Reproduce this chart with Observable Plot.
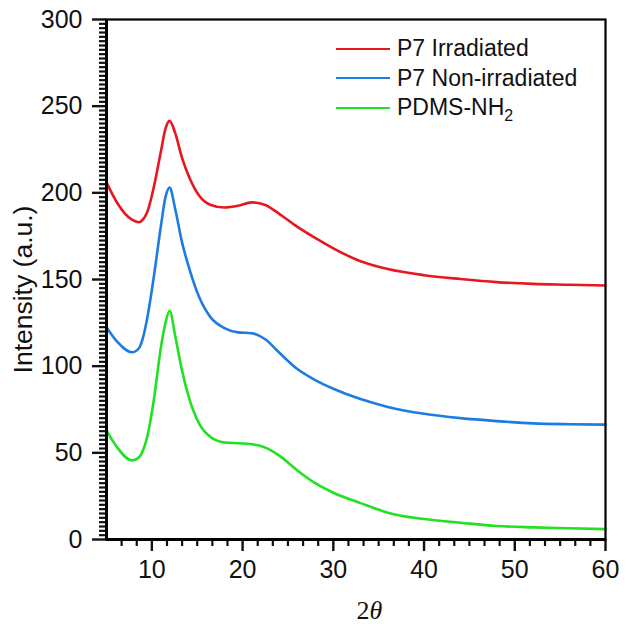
<!DOCTYPE html>
<html>
<head>
<meta charset="utf-8">
<script src="https://cdn.jsdelivr.net/npm/d3@7"></script>
<script src="https://cdn.jsdelivr.net/npm/@observablehq/plot@0.6"></script>
<style>
  html, body { margin: 0; padding: 0; background: #fff; }
  #wrap { position: relative; width: 626px; height: 626px; font-family: "Liberation Sans", Arial, sans-serif; }
  #legend { position: absolute; left: 336px; top: 34px; font-size: 23px; color: #111; line-height: 29.5px; }
  #legend .row { display: flex; align-items: center; white-space: nowrap; }
  #legend .sw { display: inline-block; width: 54px; height: 2px; margin-right: 7px; }
  #legend sub { font-size: 16px; line-height: 0; vertical-align: -6px; }
</style>
</head>
<body>
<div id="wrap"><div id="legend"></div></div>
<script>
const twoTheta = [5, 6.2, 7.8, 8.6, 9.0, 9.5, 10.2, 11, 11.5, 11.95, 12.6, 13.3, 14.2, 15.2, 16.5, 18, 19.5, 21, 22.5, 24, 26, 28, 30, 33, 36, 40, 44, 48, 52, 56, 60];
const p7Irradiated = [206, 194, 184.5, 183, 184.5, 189, 203, 224, 237, 241.5, 234, 220.6, 208, 198.5, 193, 191.5, 192.5, 194.5, 193, 188, 180.5, 174, 168, 160.5, 156, 152.5, 150.3, 148.5, 147.5, 147, 146.5];
const p7NonIrradiated = [122.5, 114, 108, 110.5, 116, 128, 151, 181, 197.5, 203, 190, 172, 155, 140, 128, 122, 119.5, 119, 115.5, 108, 98.5, 92, 87, 81, 76.5, 72.5, 70, 68.3, 67, 66.5, 66.3];
const pdmsNH2 = [63, 53, 45.6, 47.5, 51, 59.5, 80, 111, 125, 132, 116.7, 98, 80, 67, 59, 56, 55.5, 55, 53, 48.5, 40, 32.5, 27, 21, 15.5, 11.8, 9.7, 7.8, 7, 6.5, 6];

const seriesNames = ["P7 Irradiated", "P7 Non-irradiated", "PDMS-NH2"];
const seriesColors = ["#e8161e", "#1c7ce4", "#22e022"];
const seriesValues = [p7Irradiated, p7NonIrradiated, pdmsNH2];

const xTicks = [10, 20, 30, 40, 50, 60];
const xMinorTicks = d3.range(0, 34).map(i => 5 + i * 5 / 3).filter(v => v <= 60.01 && !xTicks.some(t => Math.abs(t - v) < 0.01) && v > 5.01);
const yTicks = [0, 50, 100, 150, 200, 250, 300];
const yMinorTicks = d3.range(0, 121).map(i => i * 2.5).filter(v => v % 50 !== 0);

const rows = [];
seriesNames.forEach((name, s) => {
  twoTheta.forEach((x, i) => rows.push({series: name, x, y: seriesValues[s][i]}));
});

const font = "Liberation Sans, Arial, sans-serif";
const chart = Plot.plot({
  width: 626,
  height: 626,
  marginLeft: 106,
  marginRight: 21,
  marginTop: 19,
  marginBottom: 87,
  style: {fontFamily: font, color: "#111", background: "#fff", overflow: "visible"},
  x: {domain: [5, 60]},
  y: {domain: [0, 300]},
  color: {domain: seriesNames, range: seriesColors},
  marks: [
    Plot.line(rows, {x: "x", y: "y", z: "series", stroke: "series", strokeWidth: 2.6, curve: "monotone-x"}),
    Plot.frame({stroke: "#000", strokeWidth: 2.2}),
    Plot.axisY(yMinorTicks, {tickSize: 7, strokeWidth: 2.2, tickFormat: () => "", label: null}),
    Plot.axisY(yTicks, {tickSize: 14, tickPadding: 10, strokeWidth: 2.4, fontSize: 25, label: null}),
    Plot.axisX(xMinorTicks, {tickSize: 7, strokeWidth: 2.2, tickFormat: () => "", label: null}),
    Plot.axisX(xTicks, {tickSize: 12, tickPadding: 9, strokeWidth: 2.4, fontSize: 25, label: null}),
    Plot.ruleX([5], {stroke: "#000", strokeWidth: 3}),
    Plot.ruleY([0], {stroke: "#000", strokeWidth: 3}),
    Plot.text(["Intensity (a.u.)"], {frameAnchor: "left", textAnchor: "middle", rotate: -90, dx: -83, dy: 10, fontSize: 26.5, fill: "#111"})
  ]
});

// x-axis title 2θ with italic theta
const svg = d3.select(chart);
const xs = chart.scale("x");
const midX = (xs.range[0] + xs.range[1]) / 2;
const t = svg.append("text")
  .attr("x", midX + 14).attr("y", 619)
  .attr("text-anchor", "middle")
  .attr("font-size", 26)
  .attr("fill", "#111")
  .attr("font-family", "Liberation Serif, Times New Roman, serif");
t.append("tspan").text("2");
t.append("tspan").attr("font-style", "italic").text("θ");

document.getElementById("wrap").prepend(chart);
chart.style.position = "absolute"; chart.style.left = "0"; chart.style.top = "0";

const legend = d3.select("#legend");
seriesNames.forEach((name, i) => {
  const row = legend.append("div").attr("class", "row");
  row.append("span").attr("class", "sw").style("background", seriesColors[i]);
  const label = row.append("span");
  if (name === "PDMS-NH2") { label.html("PDMS-NH<sub>2</sub>"); } else { label.text(name); }
});
</script>
</body>
</html>
